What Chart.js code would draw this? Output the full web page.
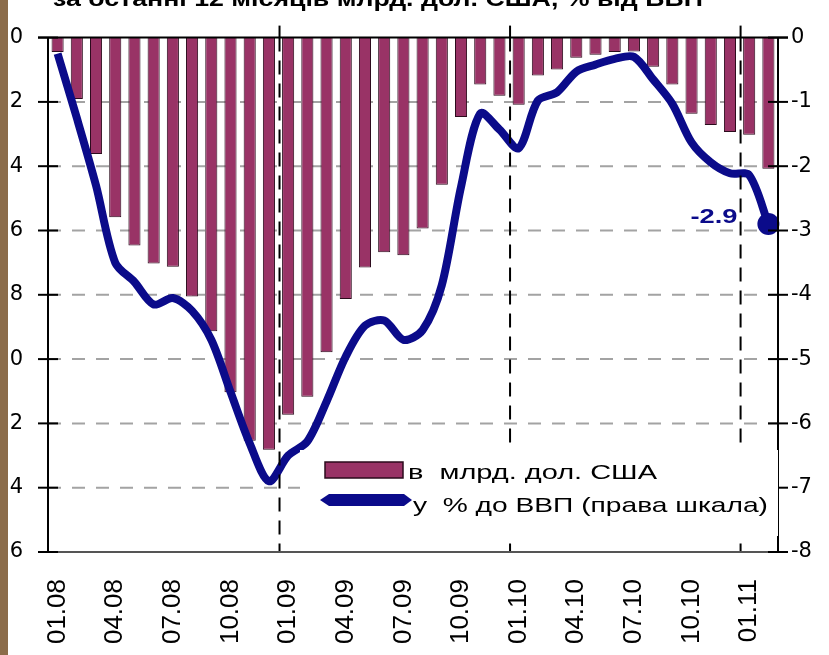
<!DOCTYPE html>
<html lang="uk">
<head>
<meta charset="UTF-8">
<title>Дефіцит поточного рахунку за останні 12 місяців</title>
<script src="https://cdn.jsdelivr.net/npm/chart.js@4.4.1/dist/chart.umd.min.js"></script>
<style>
    body { margin: 0; background: #fff; }
    .wrap { position: relative; width: 829px; height: 655px; }
</style>
</head>
<body>
<div class="wrap"><canvas id="deficitChart"></canvas></div>
<script>
const months = [
    '01.08', '02.08', '03.08', '04.08', '05.08', '06.08', '07.08', '08.08', '09.08', '10.08', '11.08', '12.08',
    '01.09', '02.09', '03.09', '04.09', '05.09', '06.09', '07.09', '08.09', '09.09', '10.09', '11.09', '12.09',
    '01.10', '02.10', '03.10', '04.10', '05.10', '06.10', '07.10', '08.10', '09.10', '10.10', '11.10', '12.10',
    '01.11', '02.11'
];
// млрд. дол. США (left axis)
const deficitBn = [
    -0.45, -1.91, -3.62, -5.59, -6.47, -7.03, -7.13, -8.05, -9.13, -11.03, -12.54, -12.82,
    -11.73, -11.17, -9.79, -8.13, -7.15, -6.68, -6.77, -5.94, -4.58, -2.47, -1.46, -1.81,
    -2.09, -1.18, -0.99, -0.63, -0.53, -0.45, -0.43, -0.91, -1.46, -2.37, -2.72, -2.94,
    -3.02, -4.08
];
// % до ВВП (right axis)
const deficitGdp = [
    -0.25, -1.25, -2.3, -3.5, -3.8, -4.15, -4.05, -4.25, -4.7, -5.51, -6.31, -6.9,
    -6.5, -6.28, -5.66, -4.96, -4.48, -4.4, -4.7, -4.55, -3.85, -2.32, -1.18, -1.43,
    -1.72, -0.98, -0.85, -0.53, -0.42, -0.33, -0.3, -0.65, -1.03, -1.63, -1.94, -2.11,
    -2.14, -2.9
];
// left labels are cut off by the picture edge, only last digit is seen
const leftTickLabels = ['0', '2', '4', '6', '8', '0', '2', '4', '6'];
const rightTickLabels = ['0', '-1', '-2', '-3', '-4', '-5', '-6', '-7', '-8'];
const titleText = 'за останні 12 місяців млрд. дол. США, % від ВВП';
const legendLabels = ['в  млрд. дол. США', 'у  % до ВВП (права шкала)'];

const barColor = '#993366';
const navy = '#0b0b8a';

function stretchText(c, text, x, y, width) {
    const w = c.measureText(text).width;
    c.save();
    c.translate(x, y);
    c.scale(width / w, 1);
    c.fillText(text, 0, 0);
    c.restore();
}

function seg(c, x1, y1, x2, y2) {
    c.beginPath();
    c.moveTo(x1, y1);
    c.lineTo(x2, y2);
    c.stroke();
}

const framePlugin = {
    id: 'frame',
    beforeDraw(chart) {
        const c = chart.ctx;
        c.save();
        c.fillStyle = '#fff';
        c.fillRect(0, 0, chart.width, chart.height);
        c.fillStyle = '#8b6c4a';
        c.fillRect(0, 0, 8, chart.height);
        // title, mostly cut off at the top
        c.fillStyle = '#000';
        c.font = 'bold 22px "Liberation Sans", Arial, sans-serif';
        c.textBaseline = 'alphabetic';
        stretchText(c, titleText, 53, 6, 650);
        c.restore();
    },
    beforeDatasetsDraw(chart) {
        const c = chart.ctx;
        const {left, right} = chart.chartArea;
        const yl = chart.scales.yLeft;
        c.save();
        c.strokeStyle = '#a3a3a3';
        c.lineWidth = 2;
        c.setLineDash([13, 11]);
        yl.ticks.forEach(t => {
            if (t.value === 0 || t.value === yl.min) return;
            const y = yl.getPixelForValue(t.value);
            seg(c, left, y, right, y);
        });
        c.restore();
    },
    afterDatasetsDraw(chart) {
        const c = chart.ctx;
        const {left, right, top, bottom} = chart.chartArea;
        const xs = chart.scales.x;
        const yl = chart.scales.yLeft;
        const yr = chart.scales.yRight;
        c.save();

        // year dividers
        c.strokeStyle = '#000';
        c.lineWidth = 2;
        [12, 24, 36].forEach(i => {
            const x = (xs.getPixelForValue(i - 1) + xs.getPixelForValue(i)) / 2 + 1;
            c.setLineDash([]);
            seg(c, x, top - 12, x, top);
            c.setLineDash([14, 9]);
            seg(c, x, top, x, bottom);
        });
        c.setLineDash([]);

        // bottom line
        c.strokeStyle = '#555';
        seg(c, left, bottom, right, bottom);

        // axes with crossing ticks
        c.strokeStyle = '#000';
        seg(c, left - 10, top, right + 10, top);
        seg(c, left, top, left, bottom);
        seg(c, right, top, right, bottom);
        yl.ticks.forEach(t => {
            const y = yl.getPixelForValue(t.value);
            seg(c, left - 10, y, left + 10, y);
        });
        yr.ticks.forEach(t => {
            const y = yr.getPixelForValue(t.value);
            seg(c, right - 10, y, right + 10, y);
        });

        // value label at the last point
        const meta = chart.getDatasetMeta(0);
        const last = meta.data[meta.data.length - 1];
        c.fillStyle = navy;
        c.font = 'bold 21px "Liberation Sans", Arial, sans-serif';
        c.textBaseline = 'middle';
        stretchText(c, String(deficitGdp[deficitGdp.length - 1]), last.x - 78, last.y - 7, 47);

        // legend box on top of plot
        c.fillStyle = '#fff';
        c.fillRect(300, 450, right - 300, 86);
        c.fillStyle = barColor;
        c.strokeStyle = '#2b0b1c';
        c.lineWidth = 1.5;
        c.fillRect(325, 462, 78, 16);
        c.strokeRect(325, 462, 78, 16);
        c.fillStyle = navy;
        c.beginPath();
        c.moveTo(320, 500);
        c.lineTo(329, 494);
        c.lineTo(404, 494);
        c.lineTo(412, 500);
        c.lineTo(404, 506);
        c.lineTo(329, 506);
        c.closePath();
        c.fill();
        c.fillStyle = '#000';
        c.font = '21px "Liberation Sans", Arial, sans-serif';
        c.textBaseline = 'alphabetic';
        stretchText(c, legendLabels[0], 408, 479, 249);
        stretchText(c, legendLabels[1], 413, 512, 355);
        c.restore();
    }
};

const ctx = document.getElementById('deficitChart').getContext('2d');
const chart = new Chart(ctx, {
    type: 'bar',
    data: {
        labels: months,
        datasets: [
            {
                type: 'line',
                label: legendLabels[1],
                data: deficitGdp,
                yAxisID: 'yRight',
                borderColor: navy,
                backgroundColor: navy,
                borderWidth: 8,
                tension: 0.3,
                pointRadius: c => c.dataIndex === months.length - 1 ? 11 : 0,
                pointBorderWidth: 0,
                pointBackgroundColor: navy,
                order: 0
            },
            {
                type: 'bar',
                label: legendLabels[0],
                data: deficitBn,
                yAxisID: 'yLeft',
                backgroundColor: barColor,
                borderColor: '#2b0b1c',
                borderWidth: 1,
                categoryPercentage: 1,
                barPercentage: 0.63,
                order: 1
            }
        ]
    },
    options: {
        responsive: true,
        maintainAspectRatio: false,
        animation: false,
        layout: { padding: { top: 22, left: 0, right: 0, bottom: 0 } },
        plugins: {
            legend: { display: false },
            tooltip: { enabled: false }
        },
        scales: {
            x: {
                grid: { display: false, drawTicks: false },
                border: { display: false },
                ticks: {
                    autoSkip: false,
                    minRotation: 90,
                    maxRotation: 90,
                    padding: 27,
                    color: '#000',
                    font: { family: '"Liberation Sans", Arial, sans-serif', size: 26 },
                    callback: (v, i) => i % 3 === 0 ? months[i] : ''
                },
                afterFit: s => { s.height = 103; }
            },
            yLeft: {
                position: 'left',
                min: -16,
                max: 0,
                grid: { display: false, drawTicks: false },
                border: { display: false },
                ticks: {
                    stepSize: 2,
                    padding: 25,
                    color: '#000',
                    font: { family: '"DejaVu Sans", sans-serif', size: 21 },
                    callback: v => leftTickLabels[Math.round(-v / 2)]
                },
                afterFit: s => { s.width = 48; }
            },
            yRight: {
                position: 'right',
                min: -8,
                max: 0,
                grid: { display: false, drawTicks: false },
                border: { display: false },
                ticks: {
                    stepSize: 1,
                    padding: 13,
                    color: '#000',
                    font: { family: '"DejaVu Sans", sans-serif', size: 21 },
                    callback: v => rightTickLabels[Math.round(-v)]
                },
                afterFit: s => { s.width = 51; }
            }
        }
    },
    plugins: [framePlugin]
});
</script>
</body>
</html>
